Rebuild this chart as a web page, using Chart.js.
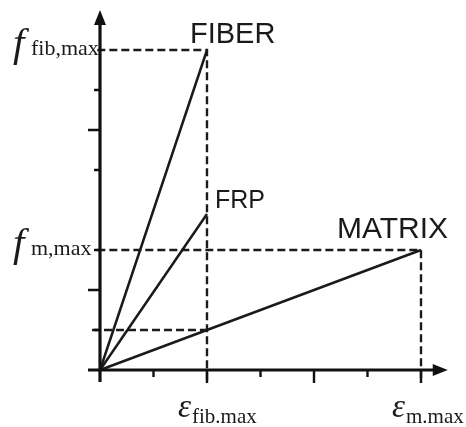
<!DOCTYPE html>
<html>
<head>
<meta charset="utf-8">
<script src="https://cdn.jsdelivr.net/npm/chart.js@4"></script>
<style>
  html, body { margin: 0; padding: 0; background: #ffffff; }
  #wrap { width: 466px; height: 427px; }
</style>
</head>
<body>
<div id="wrap"><canvas id="c" width="466" height="427"></canvas></div>
<script>
// ---- data ----
const seriesNames   = ['FIBER', 'FRP', 'MATRIX'];
const failureStrain = [2, 2, 6];      // strain at failure (tick units)
const failureStress = [8, 3.9, 3];    // stress at failure (tick units)
const xTicks = [1, 2, 3, 4, 5, 6];
const yTicks = [1, 2, 3, 5, 6, 7];
const xLabelAt   = [2, 6];
const xLabelSym  = ['ε', 'ε'];
const xLabelSub  = ['fib.max', 'm.max'];
const yLabelAt   = [8, 3];
const yLabelSym  = ['f', 'f'];
const yLabelSub  = ['fib,max', 'm,max'];

// ---- derived ----
const ink = '#1a1a1a';
const fibIdx = 0, matIdx = 2;
const matrixAtFiberFail = failureStress[matIdx] / failureStrain[matIdx] * failureStrain[fibIdx];

const lineSets = seriesNames.map((n, i) => ({
  label: n,
  data: [{x: 0, y: 0}, {x: failureStrain[i], y: failureStress[i]}],
  showLine: true, borderColor: ink, borderWidth: 2.5, pointRadius: 0, clip: false
}));

const dashStyle = { showLine: true, borderColor: ink, borderWidth: 2.4, borderDash: [8, 4], pointRadius: 0, clip: false, fill: false };
const guideSets = [
  { label: 'g1', data: [{x: -0.05, y: failureStress[fibIdx]}, {x: failureStrain[fibIdx], y: failureStress[fibIdx]}, {x: failureStrain[fibIdx], y: -0.3}], ...dashStyle },
  { label: 'g2', data: [{x: -0.05, y: failureStress[matIdx]}, {x: failureStrain[matIdx], y: failureStress[matIdx]}, {x: failureStrain[matIdx], y: -0.32}], ...dashStyle },
  { label: 'g3', data: [{x: -0.15, y: matrixAtFiberFail}, {x: failureStrain[fibIdx], y: matrixAtFiberFail}], ...dashStyle }
];

const axisPlugin = {
  id: 'axisPlugin',
  afterDatasetsDraw(chart) {
    const ctx = chart.ctx;
    const xs = chart.scales.x, ys = chart.scales.y;
    const ox = xs.getPixelForValue(0), oy = ys.getPixelForValue(0);
    const xEnd = xs.getPixelForValue(xs.max), yEnd = ys.getPixelForValue(ys.max);
    ctx.save();
    ctx.strokeStyle = '#111'; ctx.fillStyle = '#111';
    ctx.lineWidth = 3.2; ctx.setLineDash([]);
    // axes
    ctx.beginPath();
    ctx.moveTo(ox, oy + 12); ctx.lineTo(ox, yEnd + 10);
    ctx.moveTo(ox - 12, oy); ctx.lineTo(xEnd - 10, oy);
    ctx.stroke();
    // arrows
    ctx.beginPath();
    ctx.moveTo(ox, yEnd); ctx.lineTo(ox - 6, yEnd + 15); ctx.lineTo(ox + 6, yEnd + 15); ctx.closePath(); ctx.fill();
    ctx.beginPath();
    ctx.moveTo(xEnd, oy); ctx.lineTo(xEnd - 15, oy - 6); ctx.lineTo(xEnd - 15, oy + 6); ctx.closePath(); ctx.fill();
    // ticks
    ctx.lineWidth = 2.4;
    ctx.beginPath();
    xTicks.forEach(v => {
      const px = xs.getPixelForValue(v);
      const len = (v % 2 === 0) ? 13 : 7;
      ctx.moveTo(px, oy); ctx.lineTo(px, oy + len);
    });
    yTicks.forEach(v => {
      const py = ys.getPixelForValue(v);
      const len = (v % 2 === 0) ? 12 : 6;
      ctx.moveTo(ox, py); ctx.lineTo(ox - len, py);
    });
    ctx.stroke();

    // series labels
    ctx.fillStyle = ink;
    ctx.textBaseline = 'alphabetic';
    const lab = [
      {dx: -17, dy: -7, size: 29, align: 'left'},
      {dx: 8, dy: -6, size: 25, align: 'left'},
      {dx: 27, dy: -12, size: 30, align: 'right'}
    ];
    seriesNames.forEach((n, i) => {
      const px = xs.getPixelForValue(failureStrain[i]);
      const py = ys.getPixelForValue(failureStress[i]);
      ctx.font = lab[i].size + 'px "Liberation Sans", Arial, sans-serif';
      ctx.textAlign = lab[i].align;
      ctx.fillText(n, px + lab[i].dx, py + lab[i].dy);
    });

    // y labels (f with subscript)
    ctx.textAlign = 'left';
    yLabelAt.forEach((v, i) => {
      const py = ys.getPixelForValue(v);
      const sx = ox - 88;
      ctx.font = 'italic 41px "Liberation Serif", "Times New Roman", serif';
      ctx.fillText(yLabelSym[i], sx + 1, py + 6);
      ctx.font = '22px "Liberation Serif", "Times New Roman", serif';
      ctx.fillText(yLabelSub[i], sx + 19, py + 5);
    });
    // x labels (epsilon with subscript)
    xLabelAt.forEach((v, i) => {
      const px = xs.getPixelForValue(v);
      const sx = px - 29;
      ctx.font = 'italic 33px "Liberation Serif", "Times New Roman", serif';
      ctx.fillText(xLabelSym[i], sx, oy + 47);
      const w = ctx.measureText(xLabelSym[i]).width;
      ctx.font = '21px "Liberation Serif", "Times New Roman", serif';
      ctx.fillText(xLabelSub[i], sx + w + 1, oy + 53);
    });
    ctx.restore();
  }
};

new Chart(document.getElementById('c'), {
  type: 'scatter',
  data: { datasets: [...guideSets, ...lineSets] },
  options: {
    responsive: false,
    devicePixelRatio: 1,
    animation: false,
    layout: { padding: { left: 100, right: 18.25, top: 10, bottom: 57 } },
    plugins: { legend: { display: false }, tooltip: { enabled: false } },
    scales: {
      x: { type: 'linear', min: 0, max: 6.5, display: false },
      y: { type: 'linear', min: 0, max: 9, display: false }
    }
  },
  plugins: [axisPlugin]
});
</script>
</body>
</html>
